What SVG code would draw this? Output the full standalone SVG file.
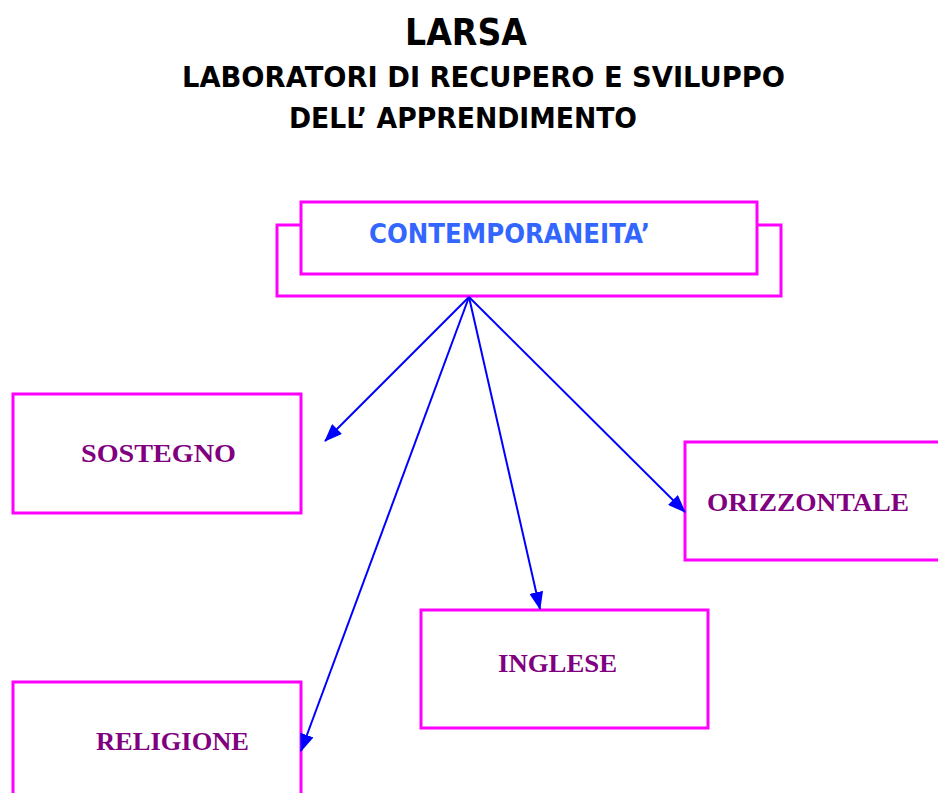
<svg xmlns="http://www.w3.org/2000/svg" width="938" height="793" viewBox="0 0 938 793">
<style>
.title{font-family:"DejaVu Sans",sans-serif;font-weight:bold;fill:#000}
.box{fill:#fff;stroke:#FF00FF;stroke-width:3}
.lbl{font-family:"Liberation Serif",serif;font-weight:bold;font-size:26px;fill:#800080}
.conn{stroke:#0000FF;stroke-width:2;fill:none;marker-end:url(#ah)}
</style>
<defs>
<marker id="ah" markerUnits="userSpaceOnUse" markerWidth="18" markerHeight="14" refX="17" refY="7" orient="auto">
<path d="M0,0 L18,7 L0,14 z" fill="#0000FF"/>
</marker>
</defs>
<rect width="938" height="793" fill="#fff"/>
<g id="title">
<text class="title" x="405" y="45" font-size="38" textLength="122" lengthAdjust="spacingAndGlyphs">LARSA</text>
<text class="title" x="182" y="87" font-size="29" textLength="603" lengthAdjust="spacingAndGlyphs">LABORATORI DI RECUPERO E SVILUPPO</text>
<text class="title" x="289" y="128" font-size="29" textLength="348" lengthAdjust="spacingAndGlyphs">DELL’ APPRENDIMENTO</text>
</g>
<g id="contemporaneita">
<rect class="box" x="277" y="225" width="504" height="71"/>
<rect class="box" x="301" y="202" width="456" height="72"/>
<text x="369" y="243" font-family="DejaVu Sans,sans-serif" font-weight="bold" font-size="26" fill="#3366FF" textLength="281" lengthAdjust="spacingAndGlyphs">CONTEMPORANEITA’</text>
</g>
<g id="sostegno">
<rect class="box" x="13" y="394" width="288" height="119"/>
<text class="lbl" x="81" y="462" textLength="155" lengthAdjust="spacingAndGlyphs">SOSTEGNO</text>
</g>
<g id="orizzontale">
<rect class="box" x="685" y="442" width="270" height="118"/>
<text class="lbl" x="707" y="511" textLength="202" lengthAdjust="spacingAndGlyphs">ORIZZONTALE</text>
</g>
<g id="inglese">
<rect class="box" x="421" y="610" width="287" height="118"/>
<text class="lbl" x="498" y="672" textLength="119" lengthAdjust="spacingAndGlyphs">INGLESE</text>
</g>
<g id="religione">
<rect class="box" x="13" y="682" width="288" height="130"/>
<text class="lbl" x="96" y="750" textLength="153" lengthAdjust="spacingAndGlyphs">RELIGIONE</text>
</g>
<g id="connectors">
<line class="conn" x1="469" y1="297" x2="325" y2="441"/>
<line class="conn" x1="469" y1="297" x2="301" y2="751"/>
<line class="conn" x1="469" y1="297" x2="540" y2="609"/>
<line class="conn" x1="469" y1="297" x2="685" y2="512"/>
</g>
</svg>
